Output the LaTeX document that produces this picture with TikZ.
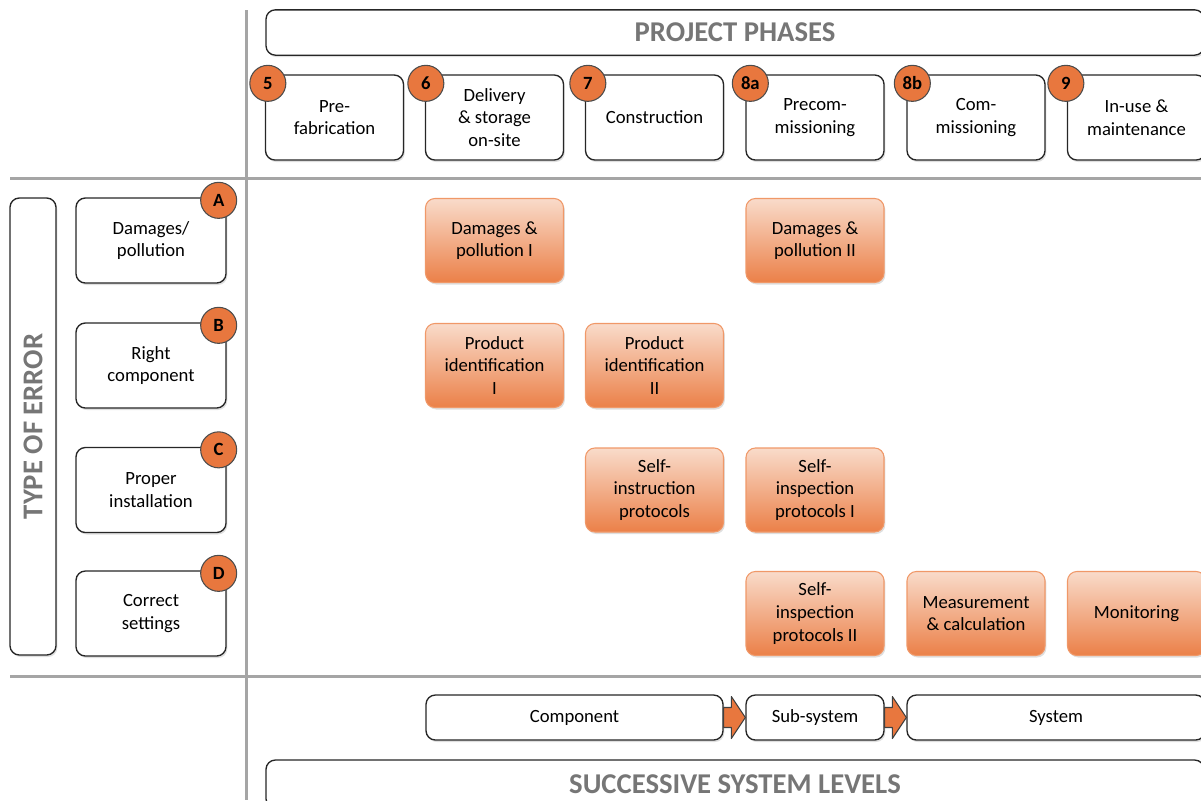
\documentclass[tikz,border=0pt]{standalone}
\usepackage{fontspec}
\setmainfont{Carlito}
\usetikzlibrary{calc,shadows}

\definecolor{titlegray}{RGB}{118,118,118}
\definecolor{rulegray}{RGB}{165,165,165}
\definecolor{palorange}{RGB}{249,219,202}
\definecolor{deeporange}{RGB}{235,128,72}
\definecolor{edgeorange}{RGB}{240,152,104}
\definecolor{badgeorange}{RGB}{232,119,62}

\begin{document}
\begin{tikzpicture}[x=.75pt,y=-.75pt,line cap=round,line join=round,
  font=\fontsize{14}{17}\selectfont,
  softshadow/.style={drop shadow={shadow xshift=1pt,shadow yshift=-1.5pt,opacity=.25}},
  whitebox/.style={draw=black!85,line width=1pt,fill=white,rounded corners=7pt,
    align=center,inner sep=2pt,softshadow},
  phasebox/.style={whitebox,minimum width=103.5pt,minimum height=63.75pt},
  errbox/.style={whitebox,minimum width=112.5pt,minimum height=63.75pt},
  levelbox/.style={whitebox,minimum height=33.75pt},
  titlebox/.style={whitebox,minimum width=703.5pt,minimum height=34pt,
    text=titlegray,font=\fontsize{21.5}{24}\selectfont\bfseries},
  checkbox/.style={draw=edgeorange,line width=.8pt,top color=palorange,
    bottom color=deeporange,rounded corners=7pt,align=center,inner sep=2pt,
    minimum width=103.5pt,minimum height=63pt,softshadow},
  badge/.style={circle,draw=black!70,line width=.8pt,fill=badgeorange,
    minimum size=27pt,inner sep=0pt,font=\fontsize{14}{17}\selectfont\bfseries},
  rule/.style={rulegray,line width=2.25pt,line cap=butt},
  levelarrow/.style={fill=badgeorange,draw=black!75,line width=.8pt}]
  \useasboundingbox (0,0) rectangle (1201,800);
  \clip (0,0) rectangle (1201,800);

  % separating rules
  \draw[rule] (246,10) -- (246,800);
  \draw[rule] (10,178) -- (1201,178);
  \draw[rule] (10,676) -- (1201,676);

  % project phases
  \node[titlebox] (phases) at (735,32.5) {PROJECT PHASES};
  \node[phasebox] (ph5) at (334.5,117.5) {Pre-\\fabrication};
  \node[phasebox] (ph6) at (494.5,117.5) {Delivery\\\& storage\\on-site};
  \node[phasebox] (ph7) at (654.5,117.5) {Construction};
  \node[phasebox] (ph8a) at (815,117.5) {Precom-\\missioning};
  \node[phasebox] (ph8b) at (976,117.5) {Com-\\missioning};
  \node[phasebox] (ph9) at (1136.5,117.5) {In-use \&\\maintenance};
  \node[badge] (n5) at ($(ph5.north west)+(3,9)$) {5};
  \node[badge] (n6) at ($(ph6.north west)+(1,9)$) {6};
  \node[badge] (n7) at ($(ph7.north west)+(3,9)$) {7};
  \node[badge] (n8a) at ($(ph8a.north west)+(5,9)$) {8a};
  \node[badge] (n8b) at ($(ph8b.north west)+(6,9)$) {8b};
  \node[badge] (n9) at ($(ph9.north west)+(-1,9)$) {9};

  % type of error
  \node[whitebox,minimum width=34.5pt,minimum height=342.75pt] (errors) at (33,426.5) {};
  \node[rotate=90,text=titlegray,font=\fontsize{21.5}{24}\selectfont\bfseries]
    (errtitle) at (errors.center) {TYPE OF ERROR};
  \node[errbox] (errA) at (151,240.5) {Damages/\\pollution};
  \node[errbox] (errB) at (151,365.5) {Right\\component};
  \node[errbox] (errC) at (151,490) {Proper\\installation};
  \node[errbox] (errD) at (151,613.5) {Correct\\settings};
  \node[badge] (nA) at ($(errA.north east)+(-8,3)$) {A};
  \node[badge] (nB) at ($(errB.north east)+(-8,3)$) {B};
  \node[badge] (nC) at ($(errC.north east)+(-8,3)$) {C};
  \node[badge] (nD) at ($(errD.north east)+(-8,3)$) {D};

  % checks per phase and error type
  \node[checkbox] (dmgI) at (494.5,240.5) {Damages \&\\pollution I};
  \node[checkbox] (dmgII) at (815,240.5) {Damages \&\\pollution II};
  \node[checkbox] (prodI) at (494.5,365.5) {Product\\identification\\I};
  \node[checkbox] (prodII) at (654.5,365.5) {Product\\identification\\II};
  \node[checkbox] (instr) at (654.5,490) {Self-\\instruction\\protocols};
  \node[checkbox] (inspI) at (815,490) {Self-\\inspection\\protocols I};
  \node[checkbox] (inspII) at (815,613.5) {Self-\\inspection\\protocols II};
  \node[checkbox] (meas) at (976,613.5) {Measurement\\\& calculation};
  \node[checkbox] (monit) at (1136.5,613.5) {Monitoring};

  % successive system levels
  \node[levelbox,minimum width=222.75pt] (comp) at (574.5,717.5) {Component};
  \node[levelbox,minimum width=103.5pt] (sub) at (815,717.5) {Sub-system};
  \node[levelbox,minimum width=223.5pt] (sys) at (1056,717.5) {System};
  \draw[levelarrow] ($(comp.east)+(0,-10)$) -- ($(sub.west)+(-14,-10)$)
    -- ($(sub.west)+(-14,-21)$) -- (sub.west) -- ($(sub.west)+(-14,21)$)
    -- ($(sub.west)+(-14,10)$) -- ($(comp.east)+(0,10)$) -- cycle;
  \draw[levelarrow] ($(sub.east)+(0,-10)$) -- ($(sys.west)+(-14,-10)$)
    -- ($(sys.west)+(-14,-21)$) -- (sys.west) -- ($(sys.west)+(-14,21)$)
    -- ($(sys.west)+(-14,10)$) -- ($(sub.east)+(0,10)$) -- cycle;
  \node[titlebox,minimum height=36pt] (levels) at (735,784) {SUCCESSIVE SYSTEM LEVELS};
\end{tikzpicture}
\end{document}
